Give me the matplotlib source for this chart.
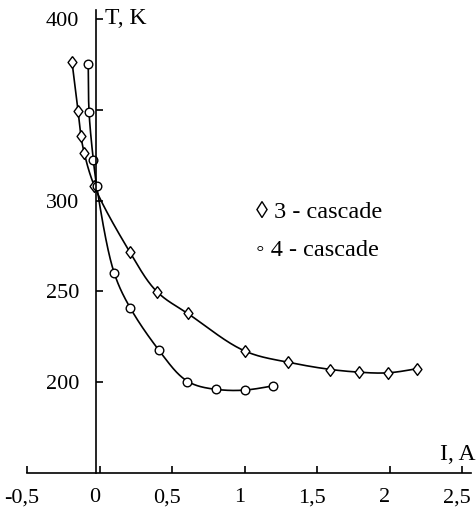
import numpy as np
import matplotlib
matplotlib.use('Agg')
import matplotlib.pyplot as plt
from matplotlib.transforms import ScaledTranslation

# data: current I (A) and temperature T (K)
cas3_I = [-0.19, -0.148, -0.13, -0.107, -0.037, 0.21, 0.395, 0.607, 1.0, 1.3, 1.59, 1.79, 1.99, 2.19]
cas3_T = [376.5, 349.5, 335.5, 326.5, 308, 271.5, 249.5, 238, 217, 211, 207, 205.5, 205, 207.5]

cas4_I = [-0.078, -0.073, -0.043, -0.02, 0.1, 0.21, 0.41, 0.605, 0.8, 1.0, 1.195]
cas4_T = [375, 349, 322.5, 308, 260, 241, 217.5, 200, 196, 195.5, 198]

x_ticks = [-0.5, 0, 0.5, 1, 1.5, 2, 2.5]
x_labels = ['-0,5', '0', '0,5', '1', '1,5', '2', '2,5']
y_ticks = [200, 250, 300, 350, 400]
y_labels = ['200', '250', '300', '', '400']


def catmull(p, n=40):
    # centripetal catmull-rom through the points
    p = np.vstack([2 * p[0] - p[1], p, 2 * p[-1] - p[-2]])
    out = []
    for i in range(1, len(p) - 2):
        p0, p1, p2, p3 = p[i - 1], p[i], p[i + 1], p[i + 2]
        t0 = 0.0
        t1 = t0 + np.linalg.norm(p1 - p0) ** 0.5
        t2 = t1 + np.linalg.norm(p2 - p1) ** 0.5
        t3 = t2 + np.linalg.norm(p3 - p2) ** 0.5
        t = np.linspace(t1, t2, n)[:, None]
        a1 = (t1 - t) / (t1 - t0) * p0 + (t - t0) / (t1 - t0) * p1
        a2 = (t2 - t) / (t2 - t1) * p1 + (t - t1) / (t2 - t1) * p2
        a3 = (t3 - t) / (t3 - t2) * p2 + (t - t2) / (t3 - t2) * p3
        b1 = (t2 - t) / (t2 - t0) * a1 + (t - t0) / (t2 - t0) * a2
        b2 = (t3 - t) / (t3 - t1) * a2 + (t - t1) / (t3 - t1) * a3
        out.append((t2 - t) / (t2 - t1) * b1 + (t - t1) / (t2 - t1) * b2)
    return np.vstack(out)


def smooth(x, y, k=80.0, sigma=0.06):
    # spline through the points, then a light gaussian blur along the arc
    # so the line behaves like a fitted trend line (T scaled by k to look like pixels)
    p = np.column_stack([np.asarray(x, float), np.asarray(y, float) / k])
    c = catmull(p)
    seg = np.linalg.norm(np.diff(c, axis=0), axis=1)
    s = np.concatenate([[0], np.cumsum(seg)])
    su = np.linspace(0, s[-1], 600)
    c = np.column_stack([np.interp(su, s, c[:, 0]), np.interp(su, s, c[:, 1])])
    h = su[1] - su[0]
    m = int(3 * sigma / h)
    w = np.exp(-0.5 * (np.arange(-m, m + 1) * h / sigma) ** 2)
    w /= w.sum()
    ext = np.vstack([2 * c[0] - c[m:0:-1], c, 2 * c[-1] - c[-2:-m - 2:-1]])
    cs = np.column_stack([np.convolve(ext[:, 0], w, 'valid'), np.convolve(ext[:, 1], w, 'valid')])
    return cs[:, 0], cs[:, 1] * k


plt.rcParams['font.family'] = ['Liberation Serif', 'DejaVu Serif', 'DejaVu Sans']
plt.rcParams['font.size'] = 16

fig = plt.figure(figsize=(4.76, 5.09), dpi=100)
ax = fig.add_axes([27 / 476, 36 / 509, 444 / 476, 463 / 509])

diamond = [(0, 1), (0.75, 0), (0, -1), (-0.75, 0), (0, 1)]

sx, sy = smooth(cas3_I, cas3_T)
ax.plot(sx, sy, color='black', lw=1.2)
ax.plot(cas3_I, cas3_T, ls='none', marker=diamond, ms=8.5, mfc='white', mec='black', mew=1.0)

sx, sy = smooth(cas4_I, cas4_T)
ax.plot(sx, sy, color='black', lw=1.2)
ax.plot(cas4_I, cas4_T, ls='none', marker='o', ms=6.2, mfc='white', mec='black', mew=1.0)

ax.set_xlim(-0.5, 2.56)
ax.set_ylim(150, 405)

ax.spines['top'].set_visible(False)
ax.spines['right'].set_visible(False)
ax.spines['left'].set_position(('data', -0.025))
ax.spines['left'].set_linewidth(1.2)
ax.spines['bottom'].set_linewidth(1.2)

ax.set_xticks(x_ticks)
ax.set_xticklabels(x_labels)
ax.set_yticks(y_ticks)
ax.set_yticklabels(y_labels)
ax.tick_params(axis='x', direction='in', length=5, width=1.2, pad=11)
ax.tick_params(axis='y', direction='in', length=5, width=1.2, pad=12)

# the x labels in the original sit a little left of their ticks
shift = ScaledTranslation(-5 / 100, 0, fig.dpi_scale_trans)
for lab in ax.get_xticklabels():
    lab.set_transform(lab.get_transform() + shift)

# axis names sit at the ends of the axes
fig.text(105 / 476, 1 - 19 / 509, 'T, K', ha='left', va='center', fontsize=17)
fig.text(476 / 476, 1 - 455 / 509, 'I, A', ha='right', va='center', fontsize=17)

# hand made legend
fig.text(256 / 476, 1 - 212 / 509, '\u25ca 3 - cascade', ha='left', va='center', fontsize=17.5)
fig.text(256 / 476, 1 - 250 / 509, '\u25e6 4 - cascade', ha='left', va='center', fontsize=17.5)

fig.savefig('out.png', dpi=100)
